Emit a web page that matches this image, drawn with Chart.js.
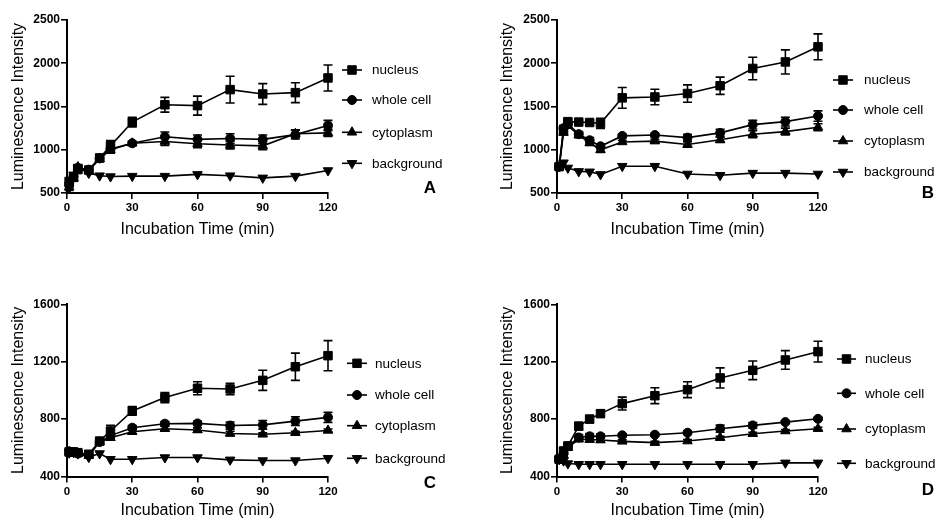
<!DOCTYPE html>
<html><head><meta charset="utf-8">
<script src="https://cdn.jsdelivr.net/npm/chart.js@4.4.1/dist/chart.umd.min.js"></script>
<style>
html,body{margin:0;padding:0;background:#fff;}
body{width:937px;height:521px;position:relative;overflow:hidden;}
canvas{position:absolute;}
</style></head><body>
<canvas id="cA" width="468" height="260" style="left:0px;top:0px;width:468px;height:260px"></canvas>
<canvas id="cB" width="469" height="260" style="left:468px;top:0px;width:469px;height:260px"></canvas>
<canvas id="cC" width="468" height="261" style="left:0px;top:260px;width:468px;height:261px"></canvas>
<canvas id="cD" width="469" height="261" style="left:468px;top:260px;width:469px;height:261px"></canvas>
<script>
// ---- data ----
const times = [1, 3, 5, 10, 15, 20, 30, 45, 60, 75, 90, 105, 120];
const seriesNames = ['nucleus', 'whole cell', 'cytoplasm', 'background'];
const panelLetters = ['A', 'B', 'C', 'D'];
const xTicks = [0, 30, 60, 90, 120];
const yTicksAB = [500, 1000, 1500, 2000, 2500];
const yTicksCD = [400, 800, 1200, 1600];
const xTitle = 'Incubation Time (min)';
const yTitle = 'Luminescence Intensity';

// Panel A
const A_nucleus    = [630, 680, 770, 765, 905, 1045, 1320, 1520, 1510, 1695, 1645, 1660, 1830];
const A_nucleusErr = [50, 40, 30, 30, 40, 60, 55, 85, 110, 155, 120, 115, 150];
const A_whole      = [610, 690, 790, 770, 900, 1010, 1075, 1150, 1120, 1130, 1120, 1175, 1280];
const A_wholeErr   = [40, 30, 30, 30, 30, 40, 20, 55, 50, 55, 50, 50, 60];
const A_cyto       = [570, 670, 800, 760, 895, 1000, 1075, 1095, 1070, 1055, 1045, 1185, 1195];
const A_cytoErr    = [40, 30, 30, 30, 30, 40, 20, 45, 45, 45, 45, 45, 40];
const A_bg         = [560, 710, 790, 730, 700, 690, 695, 695, 715, 700, 675, 695, 760];
const A_bgErr      = [0, 0, 0, 0, 0, 0, 0, 0, 0, 0, 0, 0, 0];

// Panel B
const B_nucleus    = [805, 1230, 1325, 1320, 1315, 1305, 1600, 1610, 1650, 1740, 1940, 2015, 2190];
const B_nucleusErr = [20, 50, 30, 20, 20, 60, 120, 90, 100, 100, 130, 140, 150];
const B_whole      = [805, 1250, 1300, 1180, 1110, 1040, 1160, 1170, 1140, 1195, 1290, 1325, 1390];
const B_wholeErr   = [10, 30, 30, 30, 30, 30, 20, 20, 40, 40, 50, 50, 60];
const B_cyto       = [800, 1200, 1280, 1170, 1080, 1000, 1090, 1100, 1060, 1115, 1180, 1210, 1260];
const B_cytoErr    = [10, 30, 30, 30, 30, 30, 20, 20, 30, 30, 40, 40, 40];
const B_bg         = [810, 850, 790, 750, 745, 715, 810, 810, 720, 705, 730, 730, 720];
const B_bgErr      = [0, 0, 0, 0, 0, 0, 0, 0, 0, 0, 0, 0, 0];

// Panel C
const C_nucleus    = [571, 571, 566, 555, 647, 717, 857, 950, 1015, 1010, 1070, 1165, 1242];
const C_nucleusErr = [25, 25, 20, 15, 20, 40, 30, 35, 45, 40, 70, 95, 105];
const C_whole      = [575, 570, 560, 550, 640, 685, 740, 768, 770, 755, 760, 786, 812];
const C_wholeErr   = [15, 15, 15, 15, 15, 20, 15, 15, 15, 25, 30, 30, 35];
const C_cyto       = [570, 565, 560, 545, 640, 670, 712, 733, 724, 700, 694, 705, 721];
const C_cytoErr    = [10, 10, 10, 10, 10, 15, 15, 15, 15, 15, 10, 10, 10];
const C_bg         = [565, 570, 560, 535, 560, 520, 520, 532, 532, 516, 511, 511, 527];
const C_bgErr      = [0, 0, 0, 0, 0, 0, 0, 0, 0, 0, 0, 0, 0];

// Panel D
const D_nucleus    = [520, 578, 613, 751, 800, 838, 908, 963, 1005, 1087, 1140, 1212, 1270];
const D_nucleusErr = [15, 15, 15, 25, 25, 25, 45, 55, 55, 70, 65, 65, 72];
const D_whole      = [520, 560, 610, 672, 680, 680, 687, 691, 705, 733, 756, 779, 802];
const D_wholeErr   = [10, 10, 10, 20, 20, 15, 10, 10, 10, 25, 20, 10, 10];
const D_cyto       = [520, 550, 600, 660, 657, 654, 645, 636, 647, 670, 698, 717, 733];
const D_cytoErr    = [10, 10, 10, 15, 15, 15, 10, 10, 10, 10, 10, 10, 10];
const D_bg         = [520, 510, 490, 485, 485, 485, 485, 485, 485, 485, 485, 495, 495];
const D_bgErr      = [0, 0, 0, 0, 0, 0, 0, 0, 0, 0, 0, 0, 0];

// ---- styling / layout ----
const FONT = "Arial, 'Liberation Sans', sans-serif";
const pointStyles = ['rect', 'circle', 'triangle', 'triangle'];
const pointRotations = [0, 0, 0, 180];
const pointRadii = [6, 4.5, 5.5, 5.5];

const panels = [
  { id: 'cA', w: 468, h: 260, letter: panelLetters[0],
    values: [A_nucleus, A_whole, A_cyto, A_bg], errors: [A_nucleusErr, A_wholeErr, A_cytoErr, A_bgErr],
    yMin: 500, yMax: 2500, yTicks: yTicksAB,
    area: { left: 67, right: 328, top: 20, bottom: 193 }, yTitleX: 18.5, xTitleY: 229.3,
    legend: { x1: 342, x2: 362, tx: 372, ys: [70, 100, 132.3, 163.3] }, letterPos: { x: 430, y: 188 } },
  { id: 'cB', w: 469, h: 260, letter: panelLetters[1],
    values: [B_nucleus, B_whole, B_cyto, B_bg], errors: [B_nucleusErr, B_wholeErr, B_cytoErr, B_bgErr],
    yMin: 500, yMax: 2500, yTicks: yTicksAB,
    area: { left: 89, right: 350, top: 20, bottom: 193 }, yTitleX: 40, xTitleY: 229.3,
    legend: { x1: 365, x2: 385, tx: 396, ys: [80, 110, 141, 172] }, letterPos: { x: 460, y: 193 } },
  { id: 'cC', w: 468, h: 261, letter: panelLetters[2],
    values: [C_nucleus, C_whole, C_cyto, C_bg], errors: [C_nucleusErr, C_wholeErr, C_cytoErr, C_bgErr],
    yMin: 400, yMax: 1600, yTicks: yTicksCD,
    area: { left: 67, right: 328, top: 44.3, bottom: 216.5 }, yTitleX: 18.5, xTitleY: 250.5,
    legend: { x1: 347, x2: 367, tx: 375, ys: [103.3, 135, 165.7, 198.3] }, letterPos: { x: 430, y: 223.3 } },
  { id: 'cD', w: 469, h: 261, letter: panelLetters[3],
    values: [D_nucleus, D_whole, D_cyto, D_bg], errors: [D_nucleusErr, D_wholeErr, D_cytoErr, D_bgErr],
    yMin: 400, yMax: 1600, yTicks: yTicksCD,
    area: { left: 89, right: 350, top: 44.3, bottom: 216.5 }, yTitleX: 40, xTitleY: 250.5,
    legend: { x1: 369, x2: 388, tx: 397, ys: [99, 133.3, 169, 203.3] }, letterPos: { x: 460, y: 230 } }
];

function drawMarker(ctx, style, rotation, radius, x, y) {
  ctx.save();
  ctx.fillStyle = '#000';
  ctx.strokeStyle = '#000';
  ctx.lineWidth = 1;
  if (Chart.helpers && Chart.helpers.drawPoint) {
    Chart.helpers.drawPoint(ctx, { pointStyle: style, rotation: rotation, radius: radius, borderWidth: 1 }, x, y);
  }
  ctx.restore();
}

const errorBarPlugin = {
  id: 'errorBars',
  beforeDatasetsDraw(chart) {
    const ctx = chart.ctx;
    const ys = chart.scales.y;
    ctx.save();
    ctx.strokeStyle = '#000';
    ctx.lineWidth = 1.6;
    chart.data.datasets.forEach((ds, i) => {
      const meta = chart.getDatasetMeta(i);
      const errs = ds.errors || [];
      meta.data.forEach((pt, j) => {
        const e = errs[j];
        if (!e) return;
        const v = ds.data[j].y;
        const yt = ys.getPixelForValue(v + e);
        const yb = ys.getPixelForValue(v - e);
        const x = pt.x;
        ctx.beginPath();
        ctx.moveTo(x, yt); ctx.lineTo(x, yb);
        ctx.moveTo(x - 4.5, yt); ctx.lineTo(x + 4.5, yt);
        ctx.moveTo(x - 4.5, yb); ctx.lineTo(x + 4.5, yb);
        ctx.stroke();
      });
    });
    ctx.restore();
  }
};

const legendPlugin = {
  id: 'panelLegend',
  afterDraw(chart) {
    const p = chart.options.plugins.panelLegend;
    const ctx = chart.ctx;
    ctx.save();
    ctx.strokeStyle = '#000';
    ctx.lineWidth = 1.6;
    seriesNames.forEach((name, i) => {
      const y = p.legend.ys[i];
      ctx.beginPath();
      ctx.moveTo(p.legend.x1, y); ctx.lineTo(p.legend.x2, y);
      ctx.stroke();
      drawMarker(ctx, pointStyles[i], pointRotations[i], pointRadii[i], (p.legend.x1 + p.legend.x2) / 2, y);
      ctx.fillStyle = '#000';
      ctx.font = '13.5px ' + FONT;
      ctx.textAlign = 'left';
      ctx.textBaseline = 'middle';
      ctx.fillText(name, p.legend.tx, y + 0.5);
    });
    ctx.font = 'bold 17px ' + FONT;
    ctx.textAlign = 'center';
    ctx.textBaseline = 'middle';
    ctx.fillStyle = '#000';
    ctx.fillText(p.letter, p.letterPos.x, p.letterPos.y);
    ctx.restore();
  }
};

function makeChart(p) {
  const titleLH = 16 * 1.2;
  const yTitlePadTop = 5;
  const padLeft = p.yTitleX - titleLH / 2 - yTitlePadTop;
  const yWidth = p.area.left - padLeft;
  const padBottom = p.h - (p.xTitleY + titleLH / 2);
  const xHeight = (p.h - padBottom) - p.area.bottom;

  const datasets = seriesNames.map((name, i) => ({
    label: name,
    data: times.map((t, j) => ({ x: t, y: p.values[i][j] })),
    errors: p.errors[i],
    borderColor: '#000',
    backgroundColor: '#000',
    borderWidth: 1.6,
    pointStyle: pointStyles[i],
    pointRotation: pointRotations[i],
    pointRadius: pointRadii[i],
    pointBackgroundColor: '#000',
    pointBorderColor: '#000',
    pointBorderWidth: 1,
    tension: 0,
    clip: false,
    fill: false
  }));

  new Chart(document.getElementById(p.id), {
    type: 'line',
    data: { datasets },
    options: {
      responsive: false,
      animation: false,
      devicePixelRatio: 1,
      events: [],
      layout: { padding: { left: padLeft, right: p.w - p.area.right, top: p.area.top, bottom: padBottom } },
      plugins: {
        legend: { display: false },
        tooltip: { enabled: false },
        panelLegend: { legend: p.legend, letter: p.letter, letterPos: p.letterPos }
      },
      scales: {
        x: {
          type: 'linear', min: 0, max: 120,
          afterBuildTicks: s => { s.ticks = xTicks.map(v => ({ value: v })); },
          afterFit: s => { s.height = xHeight; },
          grid: { drawOnChartArea: false, drawTicks: true, tickLength: 6, color: '#000', lineWidth: 1.6 },
          border: { display: true, color: '#000', width: 2 },
          ticks: { color: '#000', font: { family: FONT, size: 11.5, weight: 'bold' }, padding: 2, maxRotation: 0,
                   callback: v => String(v) },
          title: { display: true, text: xTitle, color: '#000', font: { family: FONT, size: 16 }, padding: { top: 0, bottom: 0 } }
        },
        y: {
          type: 'linear', min: p.yMin, max: p.yMax,
          afterBuildTicks: s => { s.ticks = p.yTicks.map(v => ({ value: v })); },
          afterFit: s => { s.width = yWidth; },
          grid: { drawOnChartArea: false, drawTicks: true, tickLength: 6, color: '#000', lineWidth: 1.6 },
          border: { display: true, color: '#000', width: 2 },
          ticks: { color: '#000', font: { family: FONT, size: 12, weight: 'bold' }, padding: 1,
                   callback: v => String(v) },
          title: { display: true, text: yTitle, color: '#000', font: { family: FONT, size: 16 }, padding: { top: yTitlePadTop, bottom: 0 } }
        }
      }
    },
    plugins: [errorBarPlugin, legendPlugin]
  });
}

panels.forEach(makeChart);
</script>
</body></html>
